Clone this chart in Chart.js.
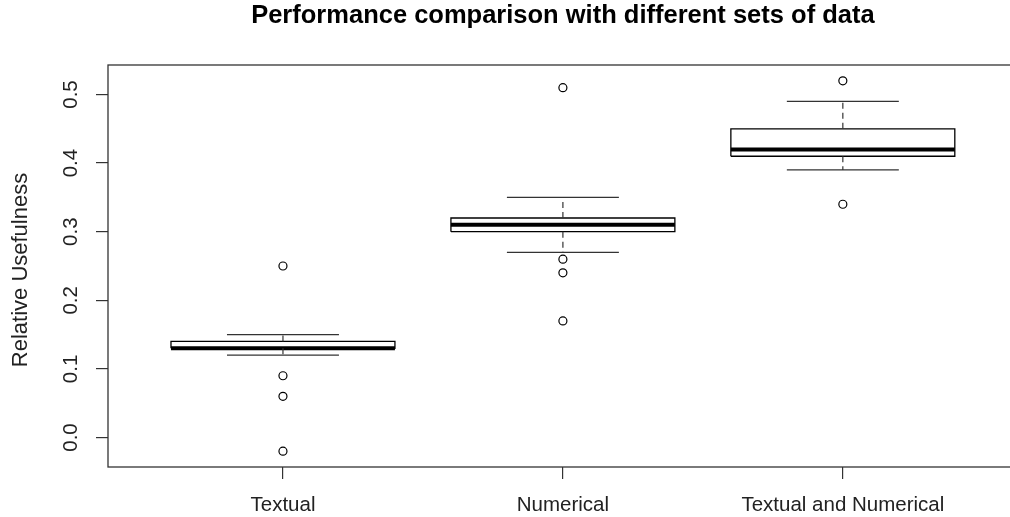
<!DOCTYPE html>
<html>
<head>
<meta charset="utf-8">
<script src="https://cdn.jsdelivr.net/npm/chart.js@4.4.0/dist/chart.umd.min.js"></script>
<style>
  html, body { margin: 0; padding: 0; background: #fff; overflow: hidden; }
  #wrap { width: 1023px; height: 517px; }
  canvas { display: block; }
</style>
</head>
<body>
<div id="wrap"><canvas id="chart" width="1023" height="517"></canvas></div>
<script>
const categories = ['Textual', 'Numerical', 'Textual and Numerical']
const whiskerLow = [0.12, 0.27, 0.39]
const q1 = [0.13, 0.30, 0.41]
const median = [0.13, 0.31, 0.42]
const q3 = [0.14, 0.32, 0.45]
const whiskerHigh = [0.15, 0.35, 0.49]
const outliers = [
  [0.25, 0.09, 0.06, -0.02],
  [0.51, 0.26, 0.24, 0.17],
  [0.52, 0.34]
]
const yTicks = [0, 0.1, 0.2, 0.3, 0.4, 0.5]
const yTickLabels = ['0.0', '0.1', '0.2', '0.3', '0.4', '0.5']

const FONT = "'Liberation Sans', Arial, sans-serif"
const BOX = 0.4
const CAP = 0.2

function seg(points, extra) {
  return Object.assign({
    type: 'scatter',
    data: points,
    showLine: true,
    borderColor: '#000',
    borderWidth: 1.2,
    pointRadius: 0,
    fill: false,
    tension: 0
  }, extra)
}

const datasets = []
categories.forEach((c, i) => {
  const x = i + 1
  // dashed whiskers
  datasets.push(seg([{x, y: q3[i]}, {x, y: whiskerHigh[i]}], {borderDash: [6, 4], borderColor: '#333'}))
  datasets.push(seg([{x, y: q1[i]}, {x, y: whiskerLow[i]}], {borderDash: [6, 4], borderColor: '#333'}))
  // staples
  datasets.push(seg([{x: x - CAP, y: whiskerHigh[i]}, {x: x + CAP, y: whiskerHigh[i]}], {borderColor: '#333'}))
  datasets.push(seg([{x: x - CAP, y: whiskerLow[i]}, {x: x + CAP, y: whiskerLow[i]}], {borderColor: '#333'}))
  // box
  datasets.push(seg([
    {x: x - BOX, y: q1[i]}, {x: x + BOX, y: q1[i]},
    {x: x + BOX, y: q3[i]}, {x: x - BOX, y: q3[i]},
    {x: x - BOX, y: q1[i]}
  ], {borderWidth: 1.3}))
  // median
  datasets.push(seg([{x: x - BOX, y: median[i]}, {x: x + BOX, y: median[i]}], {borderWidth: 4, borderCapStyle: 'butt'}))
  // outliers
  datasets.push({
    type: 'scatter',
    data: outliers[i].map(v => ({x, y: v})),
    pointRadius: 4,
    pointBorderWidth: 1.2,
    pointBackgroundColor: '#fff',
    pointBorderColor: '#000'
  })
})

const decor = {
  id: 'decor',
  afterDraw(chart) {
    const ctx = chart.ctx
    const a = chart.chartArea
    const ys = chart.scales.y
    ctx.save()
    // plot frame
    ctx.strokeStyle = '#333'
    ctx.lineWidth = 1.3
    ctx.strokeRect(a.left, a.top, a.right - a.left, a.bottom - a.top)
    // title
    ctx.fillStyle = '#000'
    ctx.font = 'bold 25.5px ' + FONT
    ctx.textAlign = 'center'
    ctx.textBaseline = 'alphabetic'
    ctx.fillText('Performance comparison with different sets of data', (a.left + a.right) / 2, 23)
    // y tick labels, rotated like R
    ctx.font = '20.5px ' + FONT
    ctx.fillStyle = '#222'
    yTicks.forEach((v, i) => {
      ctx.save()
      ctx.translate(77, ys.getPixelForValue(v))
      ctx.rotate(-Math.PI / 2)
      ctx.fillText(yTickLabels[i], 0, 0)
      ctx.restore()
    })
    // y axis title
    ctx.save()
    ctx.font = '22px ' + FONT
    ctx.translate(27, 270)
    ctx.rotate(-Math.PI / 2)
    ctx.fillText('Relative Usefulness', 0, 0)
    ctx.restore()
    ctx.restore()
  }
}

new Chart(document.getElementById('chart'), {
  type: 'scatter',
  data: { datasets },
  options: {
    responsive: false,
    animation: false,
    events: [],
    layout: { padding: { top: 65, left: 0, right: 5, bottom: 0 } },
    plugins: { legend: { display: false }, tooltip: { enabled: false }, title: { display: false } },
    scales: {
      x: {
        type: 'linear',
        min: 0.375,
        max: 3.625,
        afterBuildTicks: s => { s.ticks = categories.map((c, i) => ({ value: i + 1 })) },
        afterFit: s => { s.height = 50 },
        grid: { drawOnChartArea: false, drawTicks: true, tickLength: 12, color: '#333', lineWidth: 1.2 },
        border: { display: false },
        ticks: {
          callback: v => categories[v - 1],
          font: { family: FONT, size: 20.5 },
          color: '#222',
          padding: 14,
          maxRotation: 0,
          autoSkip: false
        }
      },
      y: {
        type: 'linear',
        min: -0.043,
        max: 0.543,
        afterBuildTicks: s => { s.ticks = yTicks.map(v => ({ value: v })) },
        afterFit: s => { s.width = 108 },
        grid: { drawOnChartArea: false, drawTicks: true, tickLength: 12, color: '#333', lineWidth: 1.2 },
        border: { display: false },
        ticks: { display: false }
      }
    }
  },
  plugins: [decor]
})
</script>
</body>
</html>
